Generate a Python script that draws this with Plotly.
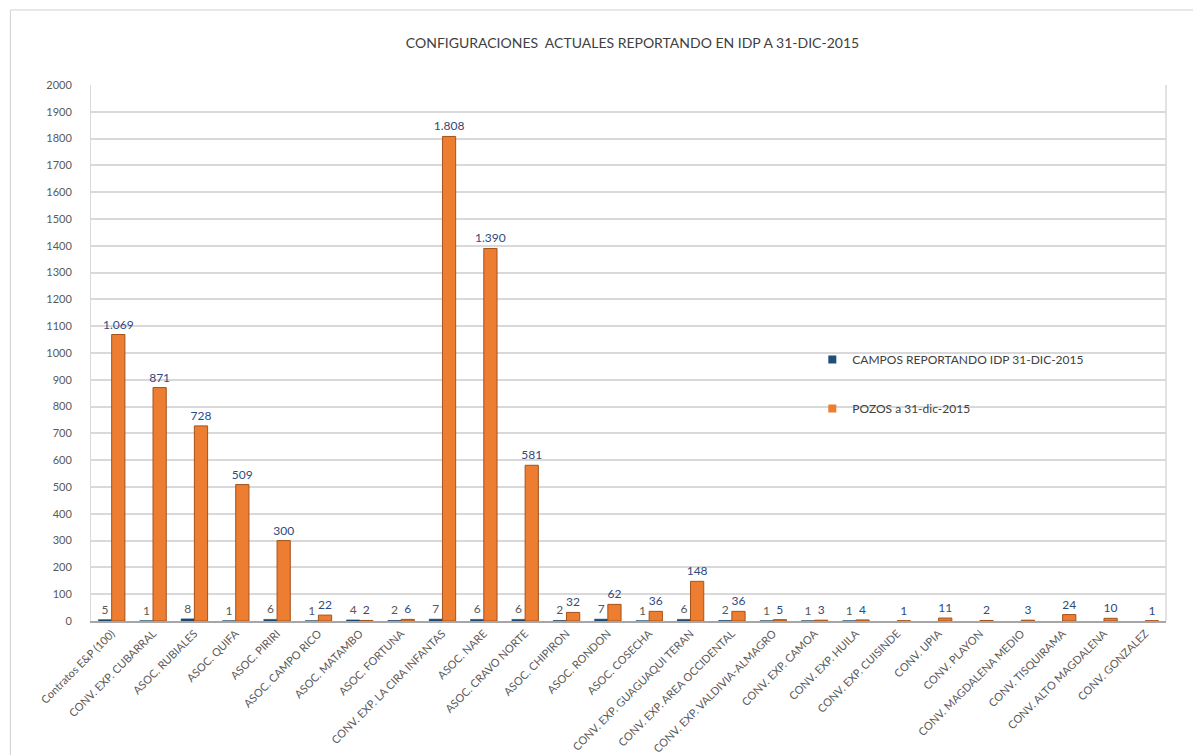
import plotly.graph_objects as go

categories = ["Contratos E&P (100)", "CONV. EXP. CUBARRAL", "ASOC. RUBIALES", "ASOC. QUIFA",
              "ASOC. PIRIRI", "ASOC. CAMPO RICO", "ASOC. MATAMBO", "ASOC. FORTUNA",
              "CONV. EXP. LA CIRA INFANTAS", "ASOC. NARE", "ASOC. CRAVO NORTE", "ASOC. CHIPIRON",
              "ASOC. RONDON", "ASOC. COSECHA", "CONV. EXP. GUAGUAQUI TERAN",
              "CONV. EXP. AREA OCCIDENTAL", "CONV. EXP. VALDIVIA-ALMAGRO", "CONV. EXP. CAMOA",
              "CONV. EXP. HUILA", "CONV. EXP. CUISINDE", "CONV. UPIA", "CONV. PLAYON",
              "CONV. MAGDALENA MEDIO", "CONV. TISQUIRAMA", "CONV. ALTO MAGDALENA", "CONV. GONZALEZ"]
campos = [5, 1, 8, 1, 6, 1, 4, 2, 7, 6, 6, 2, 7, 1, 6, 2, 1, 1, 1,
          None, None, None, None, None, None, None]
pozos = [1069, 871, 728, 509, 300, 22, 2, 6, 1808, 1390, 581, 32, 62, 36, 148, 36, 5, 3, 4,
         1, 11, 2, 3, 24, 10, 1]
y_ticks = list(range(0, 2001, 100))

FONT = "Lato, Open Sans, sans-serif"
C_CAMPOS = "#1F4E79"
C_POZOS = "#ED7D31"

fig = go.Figure()
fig.add_trace(go.Bar(
    x=categories, y=campos, name="CAMPOS REPORTANDO IDP 31-DIC-2015",
    marker=dict(color=C_CAMPOS, line=dict(color="#163a5c", width=0.5)),
    texttemplate="%{y}", textposition="outside", cliponaxis=False, constraintext="none",
    textfont=dict(color="#595959", size=12, family=FONT),
    showlegend=False,
))
fig.add_trace(go.Bar(
    x=categories, y=pozos, name="POZOS a 31-dic-2015",
    marker=dict(color=C_POZOS, line=dict(color="#A5521B", width=1)),
    texttemplate="%{y:,}", textposition="outside", cliponaxis=False, constraintext="none",
    textfont=dict(color="#2F4A7F", size=12, family=FONT),
    showlegend=False,
))
# legend entries with small square keys
fig.add_trace(go.Scatter(x=[None], y=[None], mode="markers", name="CAMPOS REPORTANDO IDP 31-DIC-2015",
                         marker=dict(symbol="square", size=8, color=C_CAMPOS), legendgroup="a",
                         hoverinfo="skip"))
fig.add_trace(go.Scatter(x=[None], y=[None], mode="markers", name="POZOS a 31-dic-2015",
                         marker=dict(symbol="square", size=8, color=C_POZOS), legendgroup="b",
                         hoverinfo="skip"))

fig.update_layout(
    width=1201, height=755,
    separators=",.",
    paper_bgcolor="white", plot_bgcolor="white",
    font=dict(family=FONT, color="#595959", size=11),
    title=dict(text="CONFIGURACIONES  ACTUALES REPORTANDO EN IDP A 31-DIC-2015",
               x=0.52, xanchor="center", y=1 - 35 / 755, yanchor="middle",
               font=dict(size=14, color="#404040", family=FONT)),
    margin=dict(l=83, r=43, t=77, b=142),
    barmode="group", bargap=0.36, bargroupgap=0.0,
    showlegend=True,
    legend=dict(x=0.671, y=0.515, xanchor="left", yanchor="top",
                bgcolor="rgba(0,0,0,0)", font=dict(size=12, color="#404040", family=FONT),
                tracegroupgap=30, itemwidth=30),
    xaxis=dict(type="category", tickangle=-45, tickfont=dict(size=11, color="#595959"),
               showline=True, linecolor="#A6A6A6", linewidth=2, automargin=False,
               showgrid=False, ticks=""),
    yaxis=dict(range=[0, 2000], tickvals=y_ticks, showgrid=True, gridcolor="#D9D9D9",
               gridwidth=1.5, zeroline=False, showline=True, linecolor="#D9D9D9",
               tickfont=dict(size=11, color="#595959"), automargin=False, ticks="",
               ticklabelstandoff=16),
)

# chart border and back-wall right edge
fig.add_shape(type="rect", xref="paper", yref="paper", x0=-0.075, x1=1.03, y0=-0.265, y1=1.14,
              line=dict(color="#D0D0D0", width=1), fillcolor="rgba(0,0,0,0)", layer="below")
fig.add_shape(type="line", xref="paper", yref="paper", x0=1.0, x1=1.0, y0=0, y1=1,
              line=dict(color="#D9D9D9", width=1.5))

fig.write_html("out.html")
